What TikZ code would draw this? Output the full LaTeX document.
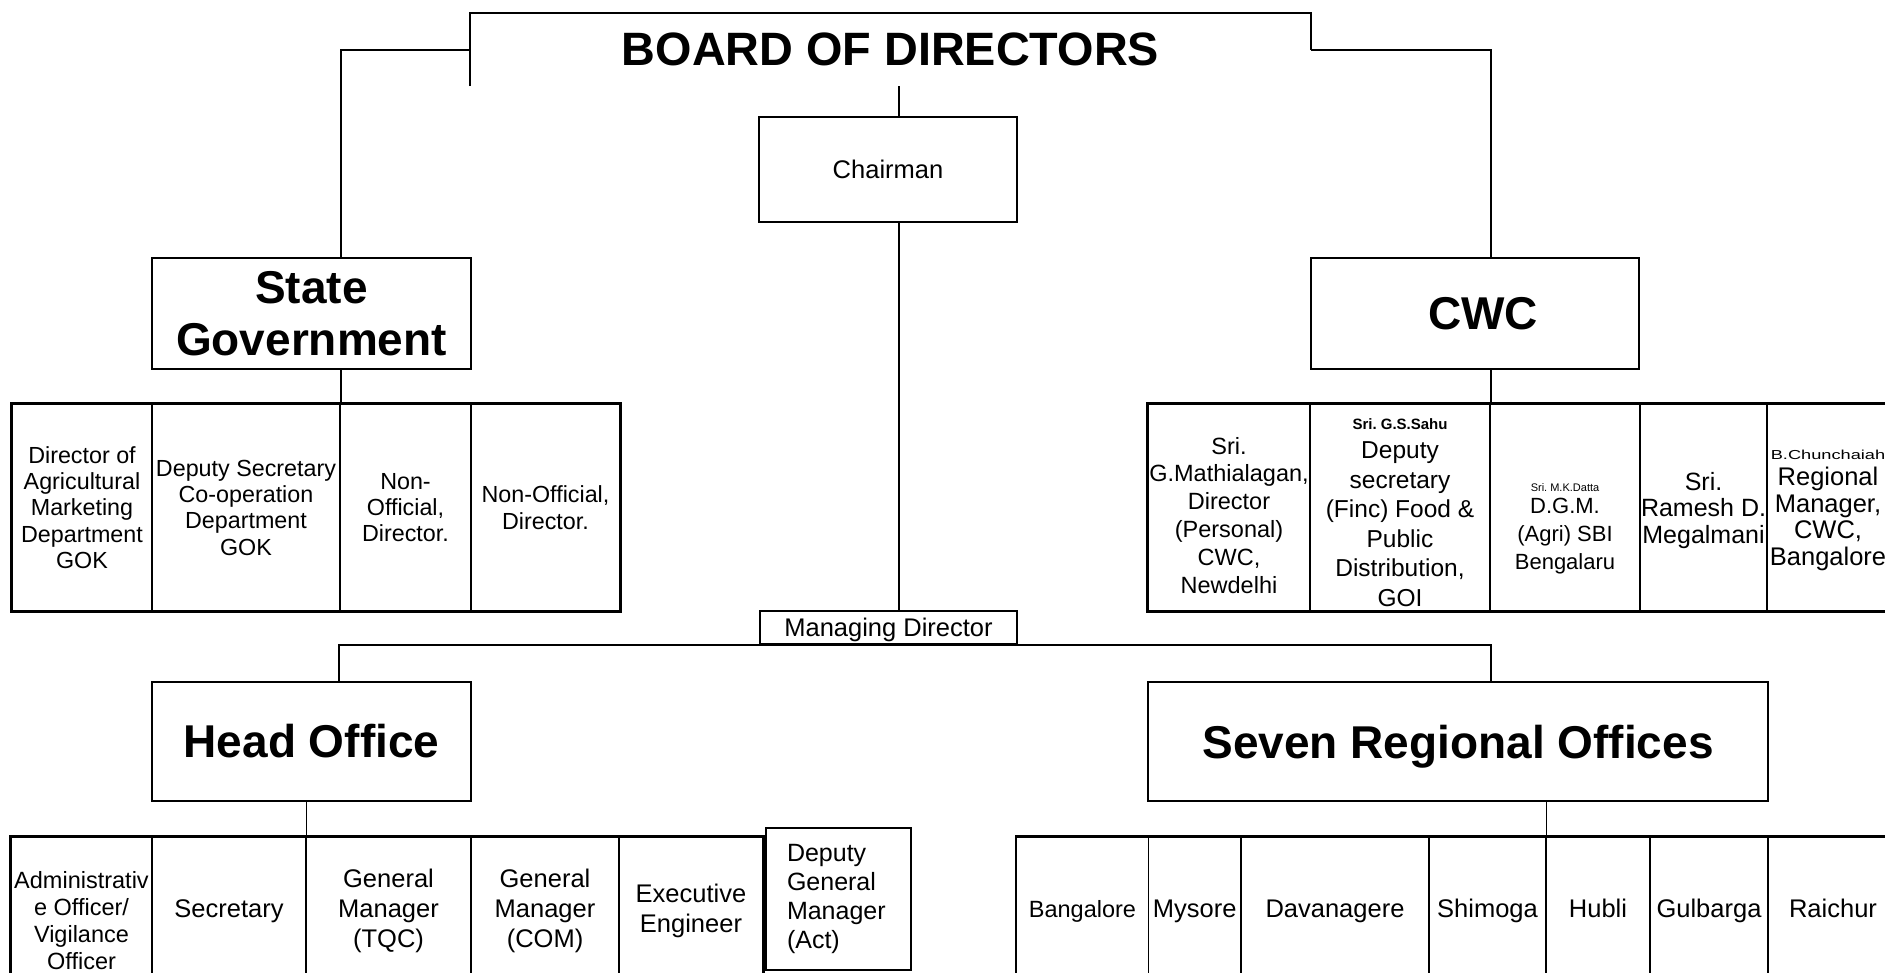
\documentclass[tikz,border=0pt]{standalone}
\usepackage{fontspec}
\setmainfont{Liberation Sans}
\usepackage{graphicx}
\newcommand\fsz[2]{\fontsize{#1}{#2}\selectfont}
\frenchspacing

\begin{document}
\begin{tikzpicture}[x=1pt, y=-1pt,
    orgbox/.style={draw, line width=2.2pt, fill=white, inner sep=0pt, align=center, font=\fsz{25.5}{30}},
    titlebox/.style={orgbox, font=\fsz{46}{52}\bfseries},
    cellbox/.style={draw, line width=1.2pt, inner sep=0pt, align=center, text depth=0pt},
    rim/.style={line width=2.3pt},
    link/.style={line width=2pt},
    drop/.style={line width=1.5pt}]
      \useasboundingbox (0,0) rectangle (1885,972);
      \clip (0,0) rectangle (1885,972);

      \node[font=\fsz{46.8}{52}\bfseries, minimum width=841, minimum height=73, inner sep=0pt] (bod) at (890.5,49.5) {BOARD OF DIRECTORS};
      \node[orgbox, minimum width=258, minimum height=105] (chair) at (888,169.5) {Chairman};
      \node[titlebox, minimum width=319, minimum height=111] (state) at (311.5,313.5) {State\\Government};
      \node[titlebox, minimum width=328, minimum height=111] (cwc) at (1475,313.5) {\hspace*{16pt}CWC};

      \node[cellbox, minimum width=140, minimum height=207, font=\fsz{23.3}{26.3}] (sg1) at (82,507.5) {Director of\\Agricultural\\Marketing\\Department\\GOK};
      \node[cellbox, minimum width=188, minimum height=207, font=\fsz{23.3}{26.3}] (sg2) at (246,507.5) {Deputy Secretary\\Co-operation\\Department\\GOK};
      \node[cellbox, minimum width=131, minimum height=207, font=\fsz{23.3}{26.3}] (sg3) at (405.5,507.5) {Non-\\Official,\\Director.};
      \node[cellbox, minimum width=149, minimum height=207, font=\fsz{23.3}{26.3}] (sg4) at (545.5,507.5) {Non-Official,\\Director.};
      \draw[rim] (sg1.north west) rectangle (sg4.south east);

      \node[cellbox, minimum width=162, minimum height=207, font=\fsz{23.5}{27.8}] (cw1) at (1229,507.5) {\rule{0pt}{32pt}Sri.\\G.Mathialagan,\\Director\\(Personal)\\CWC,\\Newdelhi};
      \node[cellbox, minimum width=180, minimum height=207, font=\fsz{24.5}{29.5}] (cw2) at (1400,507.5) {{\rule{0pt}{20pt}\fsz{15}{18}\bfseries Sri. G.S.Sahu}\\Deputy\\secretary\\(Finc) Food \&\\Public\\Distribution,\\GOI};
      \node[cellbox, minimum width=150, minimum height=207, font=\fsz{22}{28}] (cw3) at (1565,507.5) {{\rule{0pt}{45pt}\fsz{11}{14}Sri. M.K.Datta}\\[-6pt]D.G.M.\\(Agri) SBI\\Bengalaru};
      \node[cellbox, minimum width=127, minimum height=207, font=\fsz{25}{26.5}] (cw4) at (1703.5,507.5) {Sri.\\Ramesh D.\\Megalmani};
      \node[cellbox, minimum width=122, minimum height=207, font=\fsz{25.5}{26.5}] (cw5) at (1828,507.5) {{\fsz{13}{15}\scalebox{1.4}[1]{B.Chunchaiah}}\\Regional\\Manager,\\CWC,\\Bangalore};
      \draw[rim] (cw1.north west) rectangle (cw5.south east);

      \node[orgbox, line width=1.9pt, minimum width=257, minimum height=33, text depth=0pt] (md) at (888.5,627.5) {Managing Director};
      \node[titlebox, minimum width=319, minimum height=119] (ho) at (311.5,741.5) {Head Office};
      \node[titlebox, minimum width=620, minimum height=119, text depth=0pt] (ro) at (1458,741.5) {Seven Regional Offices};

      \node[cellbox, minimum width=141, minimum height=143, font=\fsz{23.5}{27}] (hc1) at (81.5,908.5) {\rule{0pt}{41pt}Administrativ\\e Officer/\\Vigilance\\Officer};
      \node[cellbox, minimum width=154, minimum height=143, font=\fsz{25.5}{30}] (hc2) at (229,908.5) {Secretary};
      \node[cellbox, minimum width=165, minimum height=143, font=\fsz{25.5}{30}] (hc3) at (388.5,908.5) {General\\Manager\\(TQC)};
      \node[cellbox, minimum width=148, minimum height=143, font=\fsz{25.5}{30}] (hc4) at (545,908.5) {General\\Manager\\(COM)};
      \node[cellbox, minimum width=144, minimum height=143, font=\fsz{25.5}{30}] (hc5) at (691,908.5) {Executive\\Engineer};
      \draw[rim] (hc1.north west) rectangle (hc5.south east);
      \node[orgbox, line width=1.6pt, minimum width=145, minimum height=142, text width=103, inner xsep=21, align=left, font=\fsz{25}{29}] (dgm) at (838.5,899) {Deputy\\General\\Manager\\(Act)};

      \node[cellbox, minimum width=132, minimum height=143, font=\fsz{23.5}{30}] (rc1) at (1082.5,908.5) {Bangalore};
      \node[cellbox, minimum width=92.5, minimum height=143, font=\fsz{25.5}{30}] (rc2) at (1194.75,908.5) {Mysore};
      \node[cellbox, minimum width=188, minimum height=143, font=\fsz{25.5}{30}] (rc3) at (1335,908.5) {Davanagere};
      \node[cellbox, minimum width=117, minimum height=143, font=\fsz{25.5}{30}] (rc4) at (1487.5,908.5) {Shimoga};
      \node[cellbox, minimum width=104, minimum height=143, font=\fsz{25.5}{30}] (rc5) at (1598,908.5) {Hubli};
      \node[cellbox, minimum width=118, minimum height=143, font=\fsz{25.5}{30}] (rc6) at (1709,908.5) {Gulbarga};
      \node[cellbox, minimum width=130, minimum height=143, font=\fsz{25.5}{30}] (rc7) at (1833,908.5) {Raichur};
      \draw[rim] (rc1.north west) rectangle (rc7.south east);

      \draw[rim] (bod.south west) -- (bod.north west) -- (bod.north east) -- (bod.east);
      \draw[link] (bod.west) -| (sg2.north east |- state.north);
      \draw[link] (bod.east) -| (cw2.north east |- cwc.north);
      \draw[link] (state.south -| sg2.north east) -- (sg2.north east);
      \draw[link] (cwc.south -| cw2.north east) -- (cw2.north east);
      \draw[link] ([xshift=11]chair.north |- bod.south) -- ([xshift=11]chair.north);
      \draw[drop] ([xshift=11]chair.south) -- ([xshift=11]chair.south |- md.north);
      \draw[link] ([xshift=27.5]ho.north) |- (md.south) -| ([xshift=33]ro.north);
      \draw[drop] (ho.south -| hc2.north east) -- (hc2.north east);
      \draw[drop] (ro.south -| rc4.north east) -- (rc4.north east);
    \end{tikzpicture}
\end{document}
